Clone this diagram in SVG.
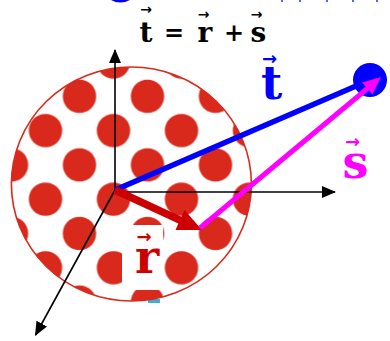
<svg xmlns="http://www.w3.org/2000/svg" width="390" height="341" viewBox="0 0 390 341">
<style>
.lbl{font-family:"DejaVu Serif","Liberation Serif",serif;font-weight:bold;text-anchor:middle}
.arr{font-family:"DejaVu Sans",sans-serif;font-weight:bold;text-anchor:middle}
.axis{stroke:#000;stroke-width:1.6;fill:none}
</style>
<defs>
<pattern id="dots" patternUnits="userSpaceOnUse" x="113.5" y="62" width="68" height="68.6">
<circle cx="0" cy="0" r="16.7" fill="#d8291c"/>
<circle cx="68" cy="0" r="16.7" fill="#d8291c"/>
<circle cx="0" cy="68.6" r="16.7" fill="#d8291c"/>
<circle cx="68" cy="68.6" r="16.7" fill="#d8291c"/>
<circle cx="34" cy="34.3" r="16.7" fill="#d8291c"/>
</pattern>
<marker id="ah" viewBox="0 0 14 12" refX="13" refY="6" markerWidth="14" markerHeight="12" markerUnits="userSpaceOnUse" orient="auto">
<path d="M0,0 L14,6 L0,12 Z" fill="#000"/>
</marker>
</defs>
<rect width="390" height="341" fill="#fff"/>
<g id="top-fragments" fill="#0000ff">
<path d="M111,0 Q120,5 130,0 Z"/>
<rect x="281" y="0" width="2" height="2" fill="#5566ff"/>
<rect x="299" y="0" width="2" height="2" fill="#5566ff"/>
<rect x="326" y="0" width="2" height="2" fill="#5566ff"/>
<rect x="352" y="0" width="2" height="2" fill="#5566ff"/>
<rect x="376" y="0" width="2" height="2" fill="#5566ff"/>
</g>
<g id="nucleus">
<rect x="148" y="299" width="12" height="4" fill="#38b0d8"/>
<ellipse cx="131.4" cy="184" rx="120" ry="117" fill="url(#dots)" stroke="#d8291c" stroke-width="1.6"/>
<rect x="122" y="225" width="41" height="65" fill="#fff"/>
</g>
<g id="connectors">
<line class="axis" x1="115" y1="191" x2="115" y2="50" marker-end="url(#ah)"/>
<line class="axis" x1="115" y1="192" x2="335" y2="192" marker-end="url(#ah)"/>
<line class="axis" x1="115" y1="190" x2="35.5" y2="335" marker-end="url(#ah)"/>
<g id="vec-t">
<line x1="115" y1="190" x2="370" y2="80" stroke="#0000ff" stroke-width="5.5"/>
<circle cx="370" cy="80" r="17" fill="#0000ff"/>
</g>
<g id="vec-r">
<line x1="115" y1="190" x2="181" y2="220.6" stroke="#cc0000" stroke-width="7.5"/>
<polygon points="202,230 184.5,209.9 175.5,230.1" fill="#cc0000"/>
</g>
<g id="vec-s">
<line x1="200" y1="228" x2="368" y2="88" stroke="#ff00ff" stroke-width="5"/>
<polygon points="381,77 372.3,94.6 362.1,82.4" fill="#ff00ff"/>
</g>
</g>
<g id="equation">
<text class="arr" x="146" y="14" font-size="14">→</text>
<text class="lbl" x="146" y="42" font-size="28">t</text>
<text class="lbl" x="174" y="41" font-size="24">=</text>
<text class="arr" x="203.5" y="19" font-size="14">→</text>
<text class="lbl" x="205" y="42" font-size="28">r</text>
<text class="lbl" x="234" y="41" font-size="24">+</text>
<text class="arr" x="256.5" y="19" font-size="14">→</text>
<text class="lbl" x="258.5" y="42" font-size="28">s</text>
</g>
<g id="label-t" fill="#0000ff">
<text class="arr" x="269.5" y="65" font-size="18">→</text>
<text class="lbl" x="271.5" y="99" font-size="46">t</text>
</g>
<g id="label-s" fill="#ff00ff">
<text class="arr" x="352.5" y="148" font-size="18">→</text>
<text class="lbl" x="355.5" y="178" font-size="46">s</text>
</g>
<g id="label-r" fill="#cc0000">
<text class="arr" x="144" y="243" font-size="18">→</text>
<text class="lbl" x="147" y="273" font-size="46">r</text>
</g>
</svg>
